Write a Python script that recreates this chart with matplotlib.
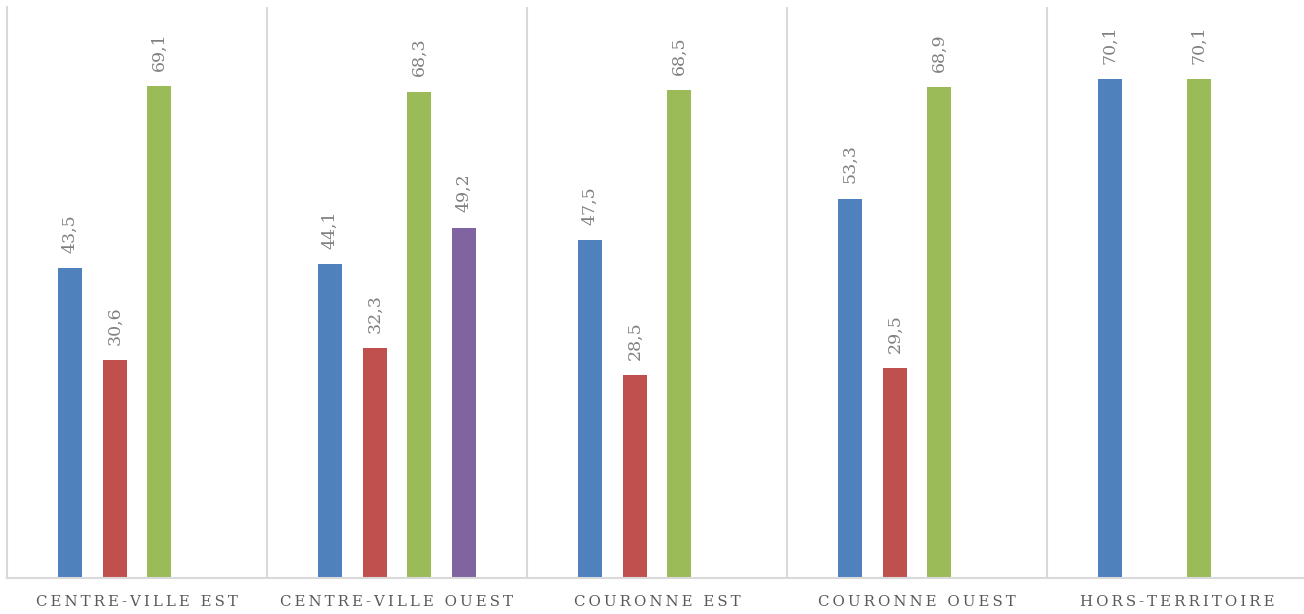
import numpy as np
import matplotlib.pyplot as plt

# data
categories = ["CENTRE-VILLE EST", "CENTRE-VILLE OUEST", "COURONNE EST", "COURONNE OUEST", "HORS-TERRITOIRE"]
serie_1 = [43.5, 44.1, 47.5, 53.3, 70.1]
serie_2 = [30.6, 32.3, 28.5, 29.5, None]
serie_3 = [69.1, 68.3, 68.5, 68.9, 70.1]
serie_4 = [None, 49.2, None, None, None]

series = [serie_1, serie_2, serie_3, serie_4]
colors = ["#4F81BD", "#C0504D", "#9BBB59", "#8064A2"]

fig = plt.figure(figsize=(13.04, 6.14), dpi=100)
ax = fig.add_axes([7 / 1304, 36 / 614, 1300 / 1304, 571 / 614])

x = np.arange(len(categories))
step = 0.171
width = 0.092
offsets = (np.arange(4) - 1.5) * step

for serie, color, off in zip(series, colors, offsets):
    for xi, v in zip(x, serie):
        if v is None:
            continue
        ax.bar(xi + off, v, width=width, color=color)
        ax.annotate(("%.1f" % v).replace(".", ","), (xi + off, v), xytext=(0, 11),
                    textcoords="offset points", rotation=90, ha="center", va="bottom",
                    fontsize=12.5, color="#808080", family="DejaVu Serif")

# separators
for s in np.arange(0.5, len(categories) - 0.5, 1):
    ax.axvline(s, color="#D9D9D9", linewidth=1.5)


def spaced(txt):
    # letter spacing with thin spaces
    return "\u2009".join(list(txt))


ax.set_xlim(-0.5, len(categories) - 0.5)
ax.set_ylim(0, 80.2)
ax.set_yticks([])
ax.set_xticks(x)
ax.set_xticklabels([spaced(c) for c in categories], family="DejaVu Serif",
                   fontsize=10.8, color="#595959")
ax.tick_params(axis="x", length=0, pad=12)

for side in ["top", "right"]:
    ax.spines[side].set_visible(False)
ax.spines["left"].set_color("#D9D9D9")
ax.spines["bottom"].set_color("#D9D9D9")
ax.spines["left"].set_linewidth(1.5)
ax.spines["bottom"].set_linewidth(1.5)

plt.savefig("out.png", dpi=100)
